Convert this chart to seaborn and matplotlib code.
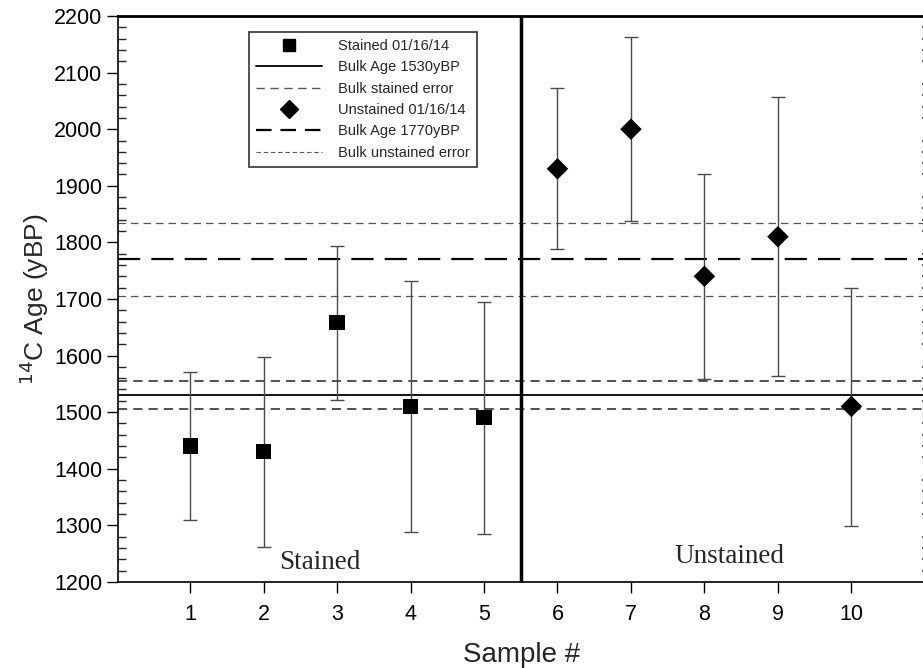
import numpy as np
import pandas as pd
import seaborn as sns
import matplotlib.pyplot as plt
from matplotlib.lines import Line2D
from matplotlib.ticker import MultipleLocator

# Data
stained_samples = [1, 2, 3, 4, 5]
stained_age = [1440, 1430, 1658, 1510, 1490]
stained_low = [1310, 1262, 1522, 1288, 1285]
stained_high = [1570, 1598, 1793, 1732, 1695]

unstained_samples = [6, 7, 8, 9, 10]
unstained_age = [1930, 2000, 1740, 1810, 1510]
unstained_low = [1788, 1837, 1558, 1563, 1298]
unstained_high = [2072, 2163, 1920, 2057, 1720]

bulk_stained = 1530
bulk_stained_err = 25
bulk_unstained = 1770
bulk_unstained_err = 65

legend_labels = ["Stained 01/16/14", "Bulk Age 1530yBP", "Bulk stained error",
                 "Unstained 01/16/14", "Bulk Age 1770yBP", "Bulk unstained error"]

sns.set_style("ticks")
plt.rcParams['font.family'] = ['Liberation Sans', 'DejaVu Sans']

df = pd.DataFrame({
    "sample": stained_samples + unstained_samples,
    "age": stained_age + unstained_age,
    "low": stained_low + unstained_low,
    "high": stained_high + unstained_high,
    "group": ["Stained"] * 5 + ["Unstained"] * 5,
})

fig = plt.figure(figsize=(9.23, 6.68), dpi=100)
ax = fig.add_axes([0.128, 0.129, 0.874, 0.847])

# error bars
ax.errorbar(df["sample"], df["age"],
            yerr=[df["age"] - df["low"], df["high"] - df["age"]],
            fmt="none", ecolor="#4a4a4a", elinewidth=1, capsize=5, capthick=1, zorder=2)

# bulk lines
ax.axhline(bulk_stained, color="black", lw=1.3, zorder=1)
for v in (bulk_stained - bulk_stained_err, bulk_stained + bulk_stained_err):
    ax.axhline(v, color="#222222", lw=1.1, ls=(0, (6, 4)), zorder=1)
ax.axhline(bulk_unstained, color="black", lw=1.6, ls=(0, (10, 5)), zorder=1)
for v in (bulk_unstained - bulk_unstained_err, bulk_unstained + bulk_unstained_err):
    ax.axhline(v, color="#555555", lw=0.9, ls=(0, (6, 4)), zorder=1)

ax.axvline(5.5, color="black", lw=2.5, zorder=3)

sns.scatterplot(data=df, x="sample", y="age", style="group",
                markers={"Stained": "s", "Unstained": "D"}, color="black",
                s=120, edgecolor="black", linewidth=0, legend=False, ax=ax, zorder=4)

ax.set_xlim(0.02, 11)
ax.set_ylim(1200, 2200)
ax.set_xticks(range(1, 11))
ax.yaxis.set_major_locator(MultipleLocator(100))
ax.yaxis.set_minor_locator(MultipleLocator(20))
ax.tick_params(axis="both", which="major", direction="out", length=8, width=1,
               labelsize=15.5, colors="black")
ax.tick_params(axis="y", which="minor", direction="in", length=6, width=1, left=True)
ax.tick_params(axis="x", which="major", pad=8)

# tiny dotted marks along the right edge
ax2 = ax.secondary_yaxis("right")
ax2.spines["right"].set_visible(False)
ax2.yaxis.set_major_locator(MultipleLocator(100))
ax2.yaxis.set_minor_locator(MultipleLocator(20))
ax2.tick_params(which="major", length=0, labelright=False)
ax2.tick_params(which="minor", direction="in", length=2, width=1.2, color="#333333")

for side in ("left", "bottom"):
    ax.spines[side].set_color("black")
    ax.spines[side].set_linewidth(1.2)
ax.spines["top"].set_color("black")
ax.spines["top"].set_linewidth(2)
ax.spines["right"].set_visible(False)

ax.set_xlabel("Sample #", fontsize=20, labelpad=12)
ax.set_ylabel("$^{14}$C Age (yBP)", fontsize=19, labelpad=2)

ax.text(2.77, 1235, "Stained", family="Liberation Serif", fontsize=19.5, ha="center", va="center")
ax.text(8.34, 1244, "Unstained", family="Liberation Serif", fontsize=19.5, ha="center", va="center")

handles = [
    Line2D([], [], ls="none", marker="s", color="black", markersize=9),
    Line2D([], [], color="black", lw=1.3),
    Line2D([], [], color="#555555", lw=1, ls=(0, (6, 4))),
    Line2D([], [], ls="none", marker="D", color="black", markersize=9),
    Line2D([], [], color="black", lw=1.6, ls=(0, (7, 4))),
    Line2D([], [], color="#555555", lw=0.8, ls=(0, (4, 2.5))),
]
leg = ax.legend(handles, legend_labels, loc="upper left", bbox_to_anchor=(0.162, 0.972),
                fontsize=10.5, frameon=True, fancybox=False, edgecolor="black",
                handlelength=4.5, labelspacing=0.5, borderpad=0.5, handletextpad=1.1,
                borderaxespad=0)
leg.get_frame().set_linewidth(1.2)

fig.savefig("out.png", dpi=100)
